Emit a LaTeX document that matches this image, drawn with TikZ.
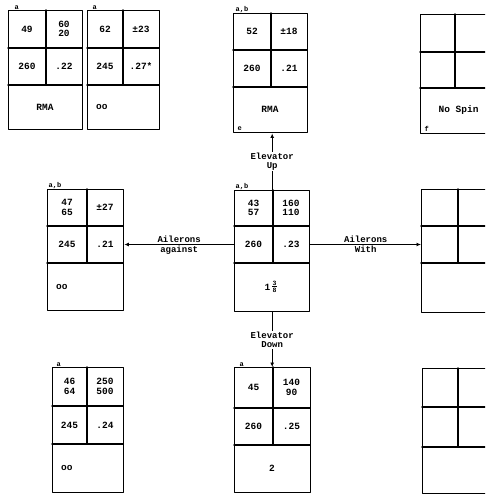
\documentclass[tikz,border=0pt]{standalone}
\usepackage{fontspec}
\setmonofont{Liberation Mono}
\usetikzlibrary{calc}
\usetikzlibrary{arrows.meta}

\tikzset{
  chartline/.style={line width=1.4pt},
  cell/.style={font=\ttfamily\bfseries\fontsize{9.5}{9.5}\selectfont, align=center, inner sep=0pt},
  smallcell/.style={font=\ttfamily\bfseries\fontsize{6.5}{6.5}\selectfont, inner sep=0pt},
  corner/.style={font=\ttfamily\bfseries\fontsize{7}{7}\selectfont, inner sep=0.5pt},
  link/.style={line width=1.1pt, -{Latex[length=4.5pt,width=4pt]}},
  linklabel/.style={font=\ttfamily\bfseries\fontsize{9}{9}\selectfont, align=center, inner sep=1pt},
}

% one chart: four small cells over one wide cell
% #1 name, #2 left, #3 top, #4 right, #5 bottom, #6 column, #7 first row, #8 second row
\newcommand{\chart}[8]{%
  \pgfmathsetmacro{\chartw}{#4-#2}%
  \pgfmathsetmacro{\charth}{#5-#3}%
  \node[chartline, draw, inner sep=0pt, minimum width=\chartw pt, minimum height=\charth pt, anchor=north west] (#1) at (#2,#3) {};
  \draw[chartline] (#2,#7) -- (#4,#7) (#2,#8) -- (#4,#8) (#6,#3) -- (#6,#8);
  \coordinate (#1-a) at ({(#2+#6)/2},{(#3+#7)/2});
  \coordinate (#1-b) at ({(#6+#4)/2},{(#3+#7)/2});
  \coordinate (#1-c) at ({(#2+#6)/2},{(#7+#8)/2});
  \coordinate (#1-d) at ({(#6+#4)/2},{(#7+#8)/2});
  \coordinate (#1-e) at ({(#2+#4)/2},{(#8+#5)/2});
  \coordinate (#1-ew) at ({#2+9},{(#8+#5)/2});
}

% values of the four small cells
\newcommand{\chartvalues}[5]{%
  \node[cell] (#1-ta) at (#1-a) {#2};
  \node[cell] (#1-tb) at (#1-b) {#3};
  \node[cell] (#1-tc) at (#1-c) {#4};
  \node[cell] (#1-td) at (#1-d) {#5};
}

\begin{document}
\begin{tikzpicture}[x=1pt, y=-1pt, line cap=round, line join=round]
  \useasboundingbox (0,0) rectangle (485,495);
  \clip (0,0) rectangle (485,495);

  % Elevator up row
  \chart{upagainst}{8}{10}{82}{129}{46}{48}{85}
  \chartvalues{upagainst}{49}{60\\20}{260}{.22}
  \node[cell] (upagainst-te) at (upagainst-e) {RMA};
  \node[corner, anchor=south west] (upagainst-k) at ([xshift=6pt]upagainst.north west) {a};

  \chart{upagainsttwo}{87}{10}{159}{129}{123}{48}{85}
  \chartvalues{upagainsttwo}{62}{±23}{245}{.27*}
  \node[cell, anchor=west] (upagainsttwo-te) at (upagainsttwo-ew) {oo};
  \node[corner, anchor=south west] (upagainsttwo-k) at ([xshift=5pt]upagainsttwo.north west) {a};

  \chart{up}{233}{13}{307}{132}{271}{50}{87}
  \chartvalues{up}{52}{±18}{260}{.21}
  \node[cell] (up-te) at (up-e) {RMA};
  \node[corner, anchor=south west] (up-k) at ([xshift=2pt]up.north west) {a,b};
  \node[corner, anchor=south west] (up-m) at ([shift={(4pt,2pt)}]up.south west) {e};

  \chart{nospin}{420}{14}{497}{133}{455}{52}{88}
  \node[cell] (nospin-te) at (nospin-e) {No Spin};
  \node[corner, anchor=south west] (nospin-m) at ([shift={(4pt,2pt)}]nospin.south west) {f};

  % Neutral elevator row
  \chart{against}{47}{189}{123}{310}{87}{226}{263}
  \chartvalues{against}{47\\65}{±27}{245}{.21}
  \node[cell, anchor=west] (against-te) at (against-ew) {oo};
  \node[corner, anchor=south west] (against-k) at ([xshift=1pt]against.north west) {a,b};

  \chart{neutral}{234}{190}{309}{311}{273}{226}{263}
  \chartvalues{neutral}{43\\57}{160\\110}{260}{.23}
  \node[cell, anchor=east] (neutral-te) at ([xshift=-1pt]neutral-e) {1};
  \node[smallcell, anchor=south] (neutral-tn) at ([shift={(3pt,1.2pt)}]neutral-e) {3};
  \node[smallcell, anchor=north] (neutral-td) at ([shift={(3pt,-1.2pt)}]neutral-e) {8};
  \draw[line width=0.6pt] (neutral-tn.south west) -- (neutral-tn.south east);
  \node[corner, anchor=south west] (neutral-k) at ([xshift=1pt]neutral.north west) {a,b};

  \chart{with}{421}{189}{497}{312}{458}{226}{263}

  % Elevator down row
  \chart{downagainst}{52}{367}{123}{492}{87}{406}{444}
  \chartvalues{downagainst}{46\\64}{250\\500}{245}{.24}
  \node[cell, anchor=west] (downagainst-te) at (downagainst-ew) {oo};
  \node[corner, anchor=south west] (downagainst-k) at ([xshift=4pt]downagainst.north west) {a};

  \chart{down}{234}{367}{310}{492}{273}{408}{445}
  \chartvalues{down}{45}{140\\90}{260}{.25}
  \node[cell] (down-te) at (down-e) {2};
  \node[corner, anchor=south west] (down-k) at ([xshift=5pt]down.north west) {a};

  \chart{downwith}{422}{368}{498}{493}{458}{407}{447}

  % Controls
  \draw[link] (neutral.north) -- node[linklabel, fill=white] (uplabel) {Elevator\\Up} (neutral.north |- up.south);
  \draw[link] (neutral.south) -- node[linklabel, fill=white] (downlabel) {Elevator\\Down} (neutral.south |- down.north);
  \draw[link] (neutral.west |- neutral-c) -- node[linklabel, above] (againstlabel) {Ailerons}
    node[linklabel, below] (againstlabelb) {against} (against.east |- neutral-c);
  \draw[link] (neutral.east |- neutral-c) -- node[linklabel, above] (withlabel) {Ailerons}
    node[linklabel, below] (withlabelb) {With} (with.west |- neutral-c);
\end{tikzpicture}
\end{document}
